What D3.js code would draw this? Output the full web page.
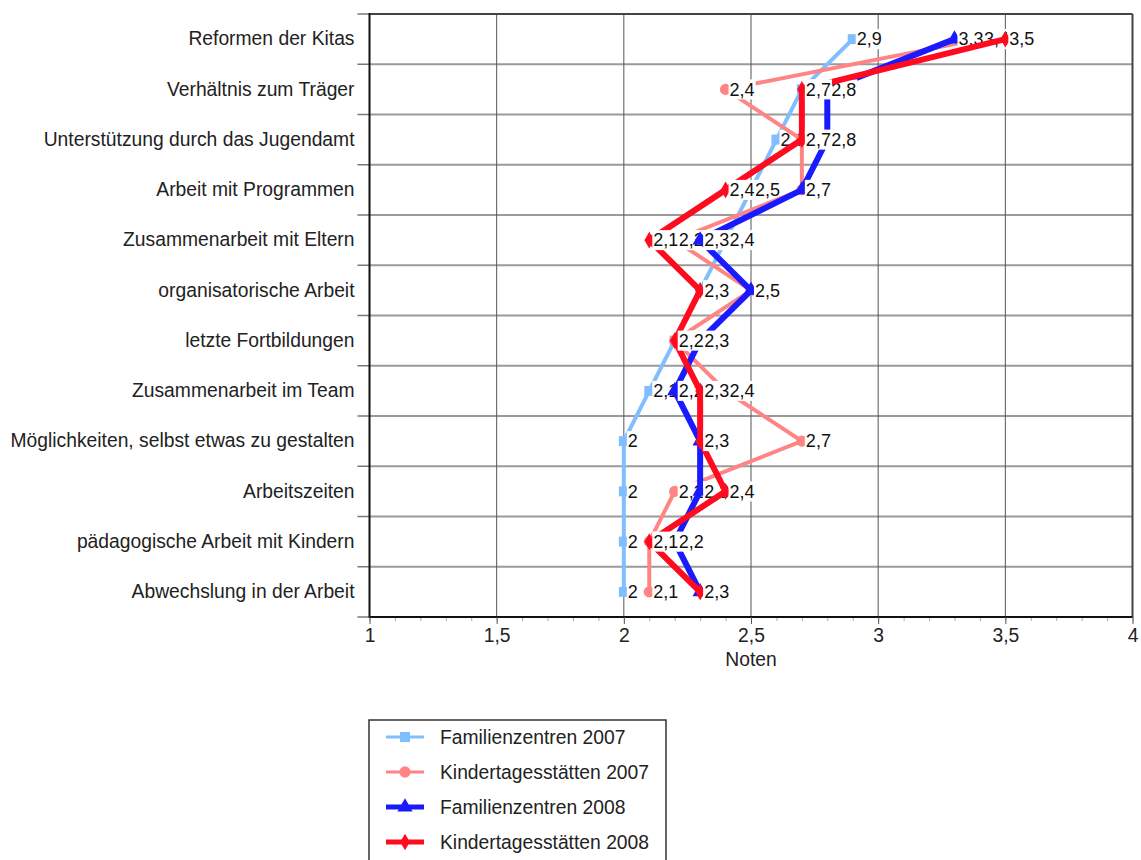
<!DOCTYPE html>
<html>
<head>
<meta charset="utf-8">
<script src="https://cdn.jsdelivr.net/npm/d3@7"></script>
<style>
  body { margin: 0; background: #fff; }
  text { font-family: "Liberation Sans", Arial, Helvetica, sans-serif; }
</style>
</head>
<body>
<div id="vis"></div>
<script>
const categories = [
    "Reformen der Kitas",
    "Verhältnis zum Träger",
    "Unterstützung durch das Jugendamt",
    "Arbeit mit Programmen",
    "Zusammenarbeit mit Eltern",
    "organisatorische Arbeit",
    "letzte Fortbildungen",
    "Zusammenarbeit im Team",
    "Möglichkeiten, selbst etwas zu gestalten",
    "Arbeitszeiten",
    "pädagogische Arbeit mit Kindern",
    "Abwechslung in der Arbeit"
];
const familienzentren2007 = [2.9, 2.7, 2.6, 2.5, 2.4, 2.3, 2.2, 2.1, 2.0, 2.0, 2.0, 2.0];
const kitas2007 = [3.4, 2.4, 2.7, 2.7, 2.2, 2.5, 2.2, 2.4, 2.7, 2.2, 2.1, 2.1];
const familienzentren2008 = [3.3, 2.8, 2.8, 2.7, 2.3, 2.5, 2.3, 2.2, 2.3, 2.3, 2.2, 2.3];
const kitas2008 = [3.5, 2.7, 2.7, 2.4, 2.1, 2.3, 2.2, 2.3, 2.3, 2.4, 2.1, 2.3];
const seriesNames = ["Familienzentren 2007", "Kindertagesstätten 2007", "Familienzentren 2008", "Kindertagesstätten 2008"];
const xTicks = [1, 1.5, 2, 2.5, 3, 3.5, 4];
const xTitle = "Noten";

(function () {
    const margin = { top: 14, left: 369.5 };
    const width = 763;
    const height = 603;
    const fontSize = "19.3px";
    const labelSize = "18px";

    const svg = d3.select("#vis").append("svg")
        .attr("width", 1141)
        .attr("height", 860);

    const g = svg.append("g")
        .attr("transform", `translate(${margin.left},${margin.top})`);

    const x = d3.scaleLinear().domain([1, 4]).range([0, width]);
    const y = d3.scaleBand().domain(categories).range([0, height]);
    const fmt = v => String(+v.toFixed(1)).replace(".", ",");

    // grid
    g.selectAll(".hgrid")
        .data(d3.range(1, categories.length))
        .enter()
        .append("line")
        .attr("x1", 0).attr("x2", width)
        .attr("y1", i => i * y.step()).attr("y2", i => i * y.step())
        .attr("stroke", "#9a9a9a")
        .attr("stroke-width", 2);

    g.selectAll(".vgrid")
        .data(xTicks.slice(1, -1))
        .enter()
        .append("line")
        .attr("x1", d => x(d)).attr("x2", d => x(d))
        .attr("y1", 0).attr("y2", height)
        .attr("stroke", "#555")
        .attr("stroke-width", 1);

    // frame
    g.append("line").attr("x1", 0).attr("x2", width).attr("y1", 0).attr("y2", 0)
        .attr("stroke", "#444").attr("stroke-width", 2);
    g.append("line").attr("x1", width).attr("x2", width).attr("y1", 0).attr("y2", height)
        .attr("stroke", "#444").attr("stroke-width", 2);

    // left ticks at band boundaries
    g.selectAll(".ytick")
        .data(d3.range(0, categories.length + 1))
        .enter()
        .append("line")
        .attr("x1", -12).attr("x2", 0)
        .attr("y1", i => i * y.step()).attr("y2", i => i * y.step())
        .attr("stroke", "#777")
        .attr("stroke-width", 1.5);

    const yAxis = g.append("g").call(d3.axisLeft(y).tickSize(0).tickPadding(15));
    yAxis.select(".domain").remove();
    yAxis.selectAll("text")
        .style("font-size", fontSize)
        .style("font-family", "'Liberation Sans', Arial, sans-serif")
        .attr("fill", "#222");
    g.append("line").attr("x1", 0).attr("x2", 0).attr("y1", -1).attr("y2", height + 1)
        .attr("stroke", "#111").attr("stroke-width", 2);

    // bottom axis: minor then major
    const minor = g.append("g")
        .attr("transform", `translate(0,${height})`)
        .call(d3.axisBottom(x).tickValues(d3.range(10, 41).map(d => d / 10)).tickSize(4).tickFormat(""));
    minor.select(".domain").remove();
    minor.selectAll("line").attr("stroke", "#aaa");

    const xAxis = g.append("g")
        .attr("transform", `translate(0,${height})`)
        .call(d3.axisBottom(x).tickValues(xTicks).tickSize(7).tickPadding(4).tickFormat(fmt));
    xAxis.select(".domain").attr("stroke", "#111").attr("stroke-width", 2).attr("d", `M0,0H${width}`);
    xAxis.selectAll("line").attr("stroke", "#555");
    xAxis.selectAll("text")
        .style("font-size", fontSize)
        .style("font-family", "'Liberation Sans', Arial, sans-serif")
        .attr("fill", "#222");

    g.append("text")
        .attr("x", width / 2)
        .attr("y", height + 49)
        .attr("text-anchor", "middle")
        .style("font-size", fontSize)
        .attr("fill", "#222")
        .text(xTitle);

    const series = [
        { name: seriesNames[0], values: familienzentren2007, color: "#80bfff", width: 4, symbol: d3.symbolSquare, size: 100 },
        { name: seriesNames[1], values: kitas2007, color: "#ff8585", width: 4, symbol: d3.symbolCircle, size: 100 },
        { name: seriesNames[2], values: familienzentren2008, color: "#1a1aff", width: 6, symbol: d3.symbolTriangle, size: 100 },
        { name: seriesNames[3], values: kitas2008, color: "#ff0a1e", width: 6, symbol: d3.symbolDiamond, size: 80 }
    ];

    const line = d3.line()
        .x(d => x(d.value))
        .y(d => y(d.cat) + y.bandwidth() / 2);

    for (const s of series) {
        const pts = s.values.map((v, i) => ({ cat: categories[i], value: v }));

        g.append("path")
            .datum(pts)
            .attr("fill", "none")
            .attr("stroke", s.color)
            .attr("stroke-width", s.width)
            .attr("stroke-linejoin", "miter")
            .attr("d", line);

        g.selectAll(null)
            .data(pts)
            .enter()
            .append("path")
            .attr("transform", d => `translate(${x(d.value)},${y(d.cat) + y.bandwidth() / 2})`)
            .attr("d", d3.symbol().type(s.symbol).size(s.size))
            .attr("fill", s.color);

        // value labels on white boxes
        const labels = g.selectAll(null)
            .data(pts)
            .enter()
            .append("g")
            .attr("transform", d => `translate(${x(d.value) + 4},${y(d.cat) + y.bandwidth() / 2})`);
        labels.append("text")
            .attr("dy", "0.35em")
            .style("font-size", labelSize)
            .attr("fill", "#111")
            .text(d => fmt(d.value));
        labels.each(function () {
            const t = d3.select(this).select("text");
            const bb = t.node().getBBox();
            d3.select(this).insert("rect", "text")
                .attr("x", bb.x - 1)
                .attr("y", -10)
                .attr("width", bb.width + 2)
                .attr("height", 20)
                .attr("fill", "#fff");
        });
    }

    // legend
    const legend = svg.append("g").attr("transform", "translate(369,720)");
    legend.append("rect")
        .attr("x", 0).attr("y", 0)
        .attr("width", 297).attr("height", 150)
        .attr("fill", "#fff")
        .attr("stroke", "#333")
        .attr("stroke-width", 1.5);

    const items = legend.selectAll(".item")
        .data(series)
        .enter()
        .append("g")
        .attr("transform", (d, i) => `translate(0,${17 + i * 35})`);
    items.append("line")
        .attr("x1", 17).attr("x2", 55)
        .attr("y1", 0).attr("y2", 0)
        .attr("stroke", d => d.color)
        .attr("stroke-width", d => d.width - 1);
    items.append("path")
        .attr("transform", "translate(36,0)")
        .attr("d", d => d3.symbol().type(d.symbol).size(d.size)())
        .attr("fill", d => d.color);
    items.append("text")
        .attr("x", 71)
        .attr("dy", "0.35em")
        .style("font-size", fontSize)
        .attr("fill", "#222")
        .text(d => d.name);
})();
</script>
</body>
</html>
